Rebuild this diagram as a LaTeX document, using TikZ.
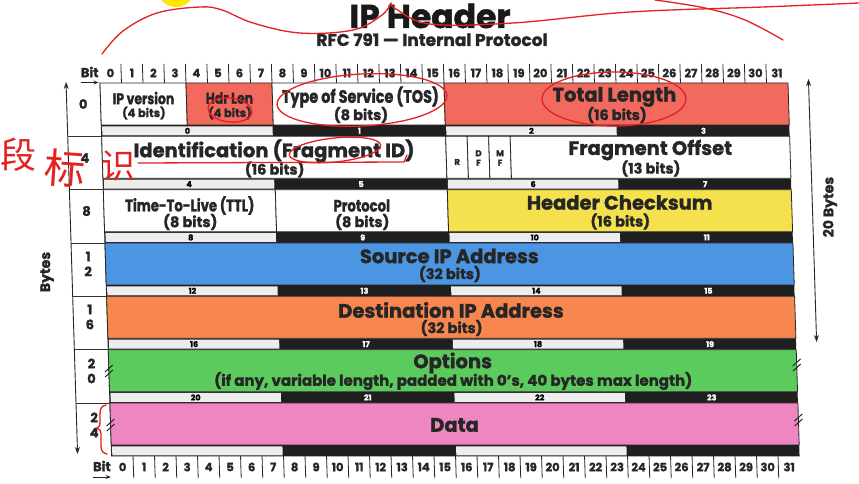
\documentclass[tikz,border=0pt]{standalone}
\usepackage{fontspec}
\setmainfont{Poppins}[BoldFeatures={FakeBold=1.4}]
\newfontfamily\condf{Poppins}[FakeStretch=0.8, BoldFeatures={FakeBold=1.4}]
\newfontfamily\cjkf{Noto Sans CJK SC}
\usetikzlibrary{arrows.meta}
\definecolor{salmon}{HTML}{F26A5E}
\definecolor{ipyellow}{HTML}{F5E14E}
\definecolor{ipblue}{HTML}{4B95E3}
\definecolor{iporange}{HTML}{F7874F}
\definecolor{ipgreen}{HTML}{5CCB5E}
\definecolor{ippink}{HTML}{EE86C2}
\definecolor{txt}{HTML}{262626}
\definecolor{pen}{HTML}{E62020}
\definecolor{hilite}{HTML}{FFE500}
\newcommand\fsz[1]{\fontsize{#1}{#1}\selectfont}
\def\tabL{97.4}
\def\colW{21.5}
\def\rowT{83}
\def\rowP{53.33}
\def\fldH{42}
\newcommand\fld[4]{\filldraw[fieldline, fill=#4] ({\tabL+#1*\colW},{\rowT+#3*\rowP}) rectangle ({\tabL+#2*\colW},{\rowT+#3*\rowP+\fldH});}
\begin{document}
\begin{tikzpicture}[x=1pt,y=-1pt,
  fieldline/.style={draw=black!85, line width=0.8pt},
  big/.style={font=\bfseries\fsz{19.5}, text=txt, inner sep=0pt},
  sub/.style={font=\bfseries\fsz{14.5}, text=txt, inner sep=0pt},
  csmall/.style={font=\condf\bfseries\fsz{16.5}, text=txt, inner sep=0pt},
  tiny/.style={font=\bfseries\fsz{11.5}, text=txt, inner sep=0pt},
  flag/.style={font=\bfseries\fsz{8.5}, text=txt, inner sep=0pt},
  bitnum/.style={font=\bfseries\fsz{11.5}, text=txt, inner sep=0pt},
  bytenum/.style={font=\bfseries\fsz{8}, inner sep=0pt},
  rowlab/.style={font=\bfseries\fsz{13}, text=txt, inner sep=0pt, align=center},
  sidelab/.style={font=\bfseries\fsz{14}, text=txt, inner sep=0pt, rotate=90},
  tickline/.style={draw=black!85, line width=0.8pt},
  sepline/.style={draw=black!80, line width=0.8pt},
  dimarrow/.style={draw=black!85, line width=0.9pt, {Stealth[length=7pt,width=5pt]}-{Stealth[length=7pt,width=5pt]}},
  bitarrow/.style={draw=black!85, line width=0.9pt, -{Stealth[length=5pt,width=4pt]}},
  brk/.style={draw=black!85, line width=1pt},
  redpen/.style={draw=pen, line width=1.3pt, line cap=round, line join=round},
  redtext/.style={font=\cjkf\fsz{36}, text=pen, inner sep=0pt}]
\useasboundingbox (0,0) rectangle (859,484);
\fill[white] (0,0) rectangle (859,484);
\fill[hilite] (176,-12) circle[radius=19];

% title
\node[font=\bfseries\fsz{33}, text=black!90, inner sep=0pt, text height=23pt, text depth=0pt] (title) at (430,16.5) {IP Header};
\node[font=\bfseries\fsz{17}, text=txt, inner sep=0pt, text height=11pt, text depth=3pt] (subtitle) at (432,42) {RFC 791 — Internal Protocol};

\begin{scope}[xslant=-0.031]
% label column
\foreach \k in {1,...,6} \draw[sepline] (63.5,{\rowT+\k*\rowP}) -- (\tabL,{\rowT+\k*\rowP});
\coordinate (ltop) at (63.5,82);
\coordinate (lbot) at (63.5,454);
\draw[dimarrow] (ltop) -- (lbot);
\node[sidelab] (bytes) at (38.6,272) {Bytes};
\coordinate (rtop) at (806,79);
\coordinate (rbot) at (806,342);
\draw[dimarrow] (rtop) -- (rbot);
\node[sidelab] (twenty) at (823.6,207) {20 Bytes};

\node[rowlab] (r0) at (80,104) {0};
\node[rowlab] (r4) at (80,158) {4};
\node[rowlab] (r8) at (80,211) {8};
\node[rowlab] (r12) at (80,264) {1\\[2pt]2};
\node[rowlab] (r16) at (80,317) {1\\[2pt]6};
\node[rowlab] (r20) at (80,371) {2\\[2pt]0};
\node[rowlab] (r24) at (81,425) {2\\[2pt]4};

% rulers
\node[font=\bfseries\fsz{13}, text=txt, inner sep=0pt] (bittop) at (87.5,72) {Bit};
\coordinate (bta) at (78,82.5);
\coordinate (btb) at (96,82.5);
\draw[bitarrow] (bta) -- (btb);
\node[font=\bfseries\fsz{13}, text=txt, inner sep=0pt] (bitbot) at (87.5,466) {Bit};
\coordinate (bba) at (78,477);
\coordinate (bbb) at (96,477);
\draw[bitarrow] (bba) -- (bbb);
\foreach \i in {1,...,31} {
  \draw[tickline] ({\tabL+\i*\colW},64) -- ({\tabL+\i*\colW},83);
  \draw[tickline] ({\tabL+\i*\colW},456) -- ({\tabL+\i*\colW},478);
}
\foreach \i in {0,...,31} {
  \node[bitnum] (tb\i) at ({\tabL+(\i+0.5)*\colW},73) {\i};
  \node[bitnum] (bb\i) at ({\tabL+(\i+0.5)*\colW},467) {\i};
}

% byte strips
\foreach \r in {0,...,6} {
  \fill[black!88] (\tabL,{\rowT+\r*\rowP+\fldH}) rectangle ({\tabL+32*\colW},{\rowT+(\r+1)*\rowP});
  \fill[white!93!black] ({\tabL+0.8},{\rowT+\r*\rowP+\fldH+1.3}) rectangle ({\tabL+8*\colW-0.8},{\rowT+(\r+1)*\rowP-1});
  \fill[white!93!black] ({\tabL+16*\colW+0.8},{\rowT+\r*\rowP+\fldH+1.3}) rectangle ({\tabL+24*\colW-0.8},{\rowT+(\r+1)*\rowP-1});
  \draw[black!85, line width=0.8pt] (\tabL,{\rowT+\r*\rowP}) -- (\tabL,{\rowT+(\r+1)*\rowP});
}
\foreach \r in {0,...,5} {
  \foreach \b in {0,2} {
    \pgfmathtruncatemacro\bn{4*\r+\b}
    \node[bytenum, text=black] (byte\bn) at ({\tabL+(\b*8+4)*\colW},{\rowT+\r*\rowP+\fldH+5.8}) {\bn};
  }
  \foreach \b in {1,3} {
    \pgfmathtruncatemacro\bn{4*\r+\b}
    \node[bytenum, text=white] (byte\bn) at ({\tabL+(\b*8+4)*\colW},{\rowT+\r*\rowP+\fldH+5.8}) {\bn};
  }
}

% row 0
\fld{0}{4}{0}{white}
\fld{4}{8}{0}{salmon}
\fld{8}{16}{0}{white}
\fld{16}{32}{0}{salmon}
\node[csmall, font=\condf\bfseries\fsz{15.5}] (ipv) at (140.4,98) {IP version};
\node[tiny] (ipvb) at (140.4,113) {(4 bits)};
\node[csmall, font=\condf\bfseries\fsz{15.5}] (hdr) at (226.4,98) {Hdr Len};
\node[tiny] (hdrb) at (226.4,113) {(4 bits)};
\node[csmall, font=\condf\bfseries\fsz{18}] (tos) at (357.4,97) {Type of Service (TOS)};
\node[sub] (tosb) at (357.4,115) {(8 bits)};
\node[big] (tlen) at (611.4,97) {Total Length};
\node[sub] (tlenb) at (613.4,115) {(16 bits)};

% row 4
\fld{0}{16}{1}{white}
\fld{16}{17}{1}{white}
\fld{17}{18}{1}{white}
\fld{18}{19}{1}{white}
\fld{19}{32}{1}{white}
\node[big] (ident) at (269.4,151) {Identification (Fragment ID)};
\node[sub] (identb) at (269.4,169.5) {(16 bits)};
\node[flag] (fr) at (452.15,162) {R};
\node[flag, align=center] (fdf) at (473.65,158) {D\\[1pt]F};
\node[flag, align=center] (fmf) at (495.15,158) {M\\[1pt]F};
\node[big] (foff) at (645.65,150) {Fragment Offset};
\node[sub] (foffb) at (645.65,168.5) {(13 bits)};

% row 8
\fld{0}{8}{2}{white}
\fld{8}{16}{2}{white}
\fld{16}{32}{2}{ipyellow}
\node[csmall] (ttl) at (183.4,205.5) {Time-To-Live (TTL)};
\node[sub] (ttlb) at (183.4,222) {(8 bits)};
\node[csmall] (proto) at (355.4,205.5) {Protocol};
\node[sub] (protob) at (355.4,222) {(8 bits)};
\node[big] (chk) at (613.4,202.5) {Header Checksum};
\node[sub] (chkb) at (613.4,221.5) {(16 bits)};

% rows 12..24
\fld{0}{32}{3}{ipblue}
\node[big] (src) at (441.4,256) {Source IP Address};
\node[sub] (srcb) at (441.4,274) {(32 bits)};
\fld{0}{32}{4}{iporange}
\node[big] (dst) at (441.4,310) {Destination IP Address};
\node[sub] (dstb) at (441.4,328) {(32 bits)};
\fld{0}{32}{5}{ipgreen}
\node[big] (opt) at (441.4,363) {Options};
\node[sub, font=\bfseries\fsz{15}] (optb) at (441.4,381) {(if any, variable length, padded with 0’s, 40 bytes max length)};
\fld{0}{32}{6}{ippink}
\node[big] (data) at (441.4,425) {Data};

% break marks
\foreach \yy in {371,425} {
  \draw[brk] ({\tabL-4},\yy+1) -- ({\tabL+4},\yy-6);
  \draw[brk] ({\tabL-4},\yy+6) -- ({\tabL+4},\yy-1);
}
\foreach \yy in {365,420} {
  \draw[brk] ({\tabL+32*\colW-4},\yy+1) -- ({\tabL+32*\colW+4},\yy-6);
  \draw[brk] ({\tabL+32*\colW-4},\yy+6) -- ({\tabL+32*\colW+4},\yy-1);
}
\end{scope}

% hand-drawn red annotations
\draw[redpen] plot[smooth, tension=0.6] coordinates {(102,54) (123,31) (157,13) (200,7) (222,10) (253,23) (300,33) (353,30) (382,15) (391,3)};
\draw[redpen] plot[smooth, tension=0.6] coordinates {(391,3) (396,9) (430,24) (513,23) (630,12) (763,7) (859,3)};
\draw[redpen] plot[smooth, tension=0.6] coordinates {(655,0) (705,8) (745,20) (783,40)};
\draw[redpen, rotate around={-6:(230,110)}] (230,110) ellipse [x radius=22, y radius=12];
\draw[redpen, rotate around={3:(362,100)}] (362,100) ellipse [x radius=85, y radius=26];
\draw[redpen] (614,99) ellipse [x radius=72, y radius=27];
\draw[redpen, rotate around={6:(335,150)}] (335,150) ellipse [x radius=46, y radius=12];
\draw[redpen] (138,163) -- (404,162) -- (407,155);
\draw[redpen] (106,405) .. controls (101,406) and (100,409) .. (100,415) -- (100,422) .. controls (100,426) and (99,427) .. (97,428) .. controls (100,429) and (101,431) .. (101,435) -- (101,446) .. controls (101,451) and (103,453) .. (107,454);
\node[redtext] (cj1) at (19,155) {段};
\node[redtext, font=\cjkf\fsz{41}, rotate=-4] (cj2) at (65,168) {标};
\node[redtext, font=\cjkf\fsz{34}] (cj3) at (118,166) {识};
\end{tikzpicture}
\end{document}
